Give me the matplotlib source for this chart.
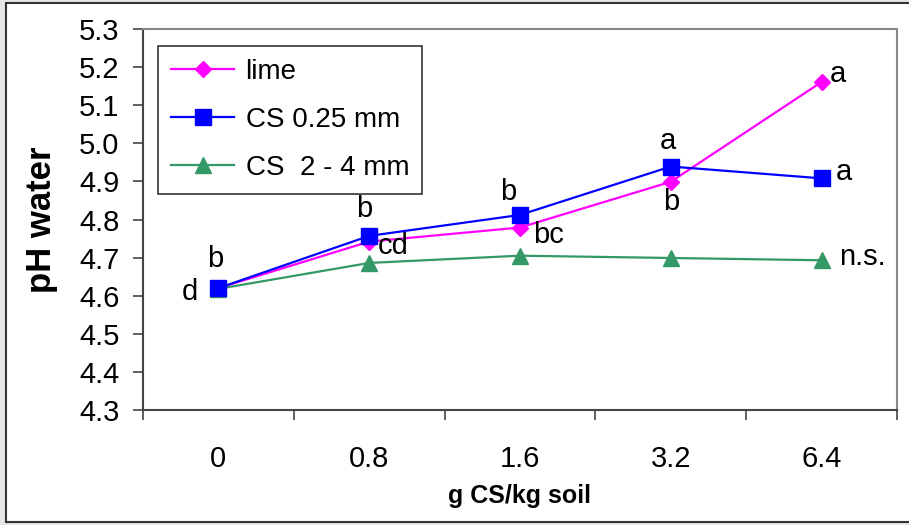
import matplotlib
matplotlib.use('Agg')
import matplotlib.pyplot as plt
from matplotlib.patches import Rectangle
import numpy as np

plt.rcParams['font.family'] = ['Liberation Sans', 'DejaVu Sans']

# data
doses = ['0', '0.8', '1.6', '3.2', '6.4']
lime = [4.62, 4.742, 4.779, 4.899, 5.161]
cs_fine = [4.62, 4.757, 4.812, 4.939, 4.908]
cs_coarse = [4.618, 4.686, 4.705, 4.699, 4.693]

# significance letters (text, x index, baseline y)
letters = [('b', 0, 4.676), ('d', 0, 4.589), ('b', 1, 4.807), ('cd', 1, 4.709),
           ('b', 2, 4.851), ('bc', 2, 4.739), ('a', 3, 4.985), ('b', 3, 4.825),
           ('a', 4, 5.161), ('a', 4, 4.904), ('n.s.', 4, 4.681)]
letter_dx = [-0.02, -0.19, -0.03, 0.16, -0.08, 0.19, -0.02, 0.0, 0.11, 0.15, 0.27]

fig = plt.figure(figsize=(9.09, 5.25), dpi=100)
fig.patch.set_facecolor('#e6e6e6')
fig.patches.append(Rectangle((6 / 909, 3 / 525), 910 / 909, 519 / 525,
                             transform=fig.transFigure, facecolor='white',
                             edgecolor='#333333', linewidth=1.5, zorder=-10))

ax = fig.add_axes([143 / 909, 115 / 525, 754 / 909, 381 / 525])
ax.set_facecolor('white')
x = np.arange(len(doses))

ax.plot(x, lime, color='#ff00ff', marker='D', markersize=8.5, lw=1.6, label='lime', zorder=3)
ax.plot(x, cs_fine, color='#0000ff', marker='s', markersize=11, lw=1.6, label='CS 0.25 mm', zorder=4)
ax.plot(x, cs_coarse, color='#339966', marker='^', markersize=11, lw=1.6, label='CS  2 - 4 mm', zorder=2)

for (txt, i, yv), dx in zip(letters, letter_dx):
    ax.text(i + dx, yv, txt, fontsize=21, ha='center', va='baseline', zorder=5)

ax.set_xlim(-0.5, 4.5)
ax.set_ylim(4.3, 5.3)
ax.set_yticks(np.arange(4.3, 5.31, 0.1))
ax.set_yticklabels(['%.1f' % v for v in np.arange(4.3, 5.31, 0.1)], fontsize=21)
ax.tick_params(axis='y', direction='out', length=7, width=1.2, color='#444444', pad=10)

ax.set_xticks(np.arange(-0.5, 4.6, 1.0))
ax.set_xticklabels([])
ax.set_xticks(x, minor=True)
ax.set_xticklabels(doses, minor=True, fontsize=21)
ax.tick_params(axis='x', which='major', direction='out', length=7, width=1.2, color='#444444')
ax.tick_params(axis='x', which='minor', length=0, pad=25)

for s in ['top', 'right']:
    ax.spines[s].set_color('#888888')
    ax.spines[s].set_linewidth(1.5)
for s in ['left', 'bottom']:
    ax.spines[s].set_color('#444444')
    ax.spines[s].set_linewidth(1.5)

ax.set_ylabel('pH water', fontsize=25, fontweight='bold', labelpad=15)
ax.set_xlabel('g CS/kg soil', fontsize=18, fontweight='bold', labelpad=8)

leg = ax.legend(loc='upper left', bbox_to_anchor=(0.02, 0.955), fontsize=20,
                frameon=True, fancybox=False, edgecolor='black', borderpad=0.45,
                labelspacing=0.8, handlelength=2.3, handletextpad=0.4, borderaxespad=0)
leg.get_frame().set_linewidth(1.2)

fig.savefig('out.png', dpi=100, facecolor=fig.get_facecolor())
